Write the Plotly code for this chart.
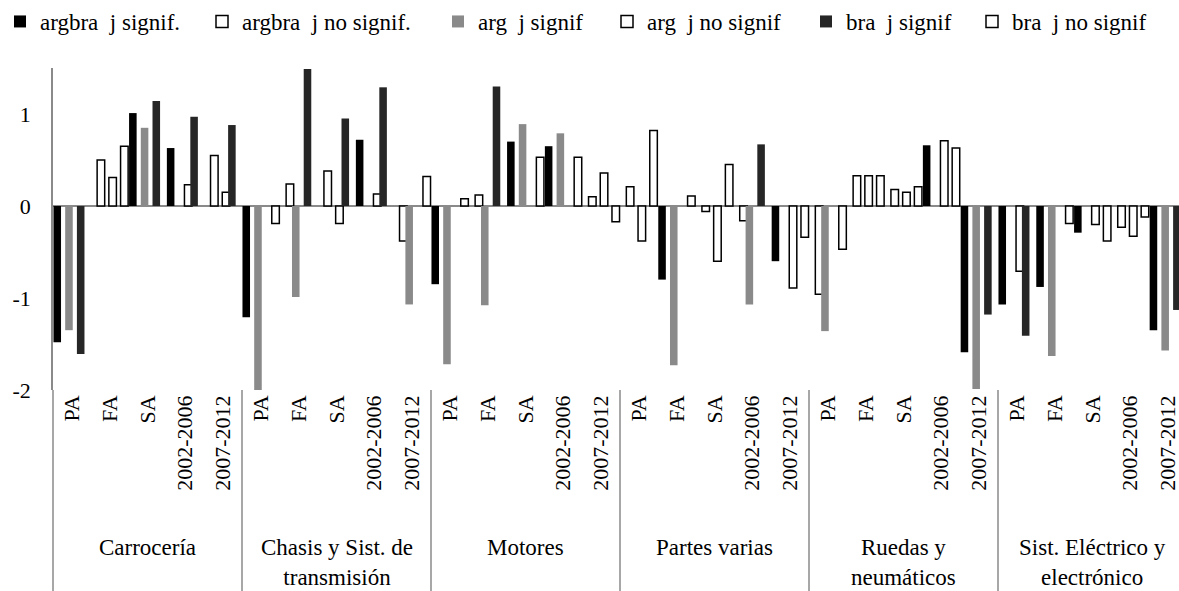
import plotly.graph_objects as go

# ---------------- data ----------------
groups = ["Carrocería", "Chasis y Sist. de<br>transmisión", "Motores", "Partes varias",
          "Ruedas y<br>neumáticos", "Sist. Eléctrico y<br>electrónico"]
periods = ["PA", "FA", "SA", "2002-2006", "2007-2012"]

argbra_vals = [-1.48, 0.50, 1.01, 0.63, 0.55,
               -1.21, 0.24, 0.38, 0.72, -0.38,
               -0.85, 0.12, 0.70, 0.65, 0.10,
               0.21, -0.80, -0.06, -0.16, -0.60,
               -0.96, 0.33, 0.18, 0.66, -1.59,
               -1.07, -0.88, -0.29, -0.23, -1.35]
argbra_sig = [1, 0, 1, 1, 0,
              1, 0, 0, 1, 0,
              1, 0, 1, 1, 0,
              0, 1, 0, 0, 1,
              0, 0, 0, 1, 1,
              1, 1, 1, 0, 1]
arg_vals = [-1.35, 0.31, 0.85, 0.23, 0.15,
            -2.01, -0.99, -0.19, 0.13, -1.07,
            -1.72, -1.08, 0.89, 0.79, 0.36,
            -0.38, -1.73, -0.60, -1.07, -0.89,
            -1.36, 0.33, 0.15, 0.71, -1.99,
            -0.71, -1.63, -0.20, -0.33, -1.57]
arg_sig = [1, 0, 1, 0, 0,
           1, 1, 0, 0, 1,
           1, 1, 1, 1, 0,
           0, 1, 0, 1, 0,
           1, 0, 0, 0, 1,
           0, 1, 0, 0, 1]
bra_vals = [-1.61, 0.65, 1.14, 0.97, 0.88,
            -0.19, 1.49, 0.95, 1.29, 0.32,
            0.08, 1.30, 0.53, 0.53, -0.17,
            0.82, 0.11, 0.45, 0.67, -0.34,
            -0.47, 0.33, 0.21, 0.63, -1.18,
            -1.41, -0.19, -0.38, -0.12, -1.13]
bra_sig = [1, 0, 1, 1, 1,
           0, 1, 1, 1, 0,
           0, 1, 0, 0, 0,
           0, 0, 0, 1, 0,
           0, 0, 0, 0, 1,
           1, 0, 0, 0, 1]

series_names = ["argbra", "arg", "bra"]
sig_colors = ["#000000", "#8a8a8a", "#262626"]
series_vals = [argbra_vals, arg_vals, bra_vals]
series_sig = [argbra_sig, arg_sig, bra_sig]

# ---------------- figure ----------------
FONT = "Liberation Serif, Times New Roman, serif"
W, H = 1179, 591
ML, MR, MT = 53, 0, 68
PLOT_BOTTOM = 390
MB = H - PLOT_BOTTOM
n_cat = len(groups) * len(periods)
idx = list(range(n_cat))
ticktext = [p for _ in groups for p in periods]

bar_w = 0.2
step = 0.155
start = -0.4875

# legend entry left edges (px)
legend_left_px = [0, 202, 438, 607, 806, 972]

fig = go.Figure()
slot = 0
for name, col, vals, sig in zip(series_names, sig_colors, series_vals, series_sig):
    for is_sig in (1, 0):
        y = [v if s == is_sig else None for v, s in zip(vals, sig)]
        label = name + "\u00a0\u00a0j " + ("signif" if is_sig else "no signif")
        if name == "argbra":
            label += "."
        fig.add_trace(go.Bar(
            x=idx, y=y, name=label,
            width=bar_w, offset=start + step * slot,
            legend="legend" if slot == 0 else "legend%d" % (slot + 1),
            marker=dict(color=col if is_sig else "#ffffff",
                        line=dict(color="#000000", width=0 if is_sig else 1.5)),
        ))
        slot += 1

plot_w = W - ML - MR
plot_h = H - MT - MB
cat_px = 37.8
x_range = [-0.5, -0.5 + plot_w / cat_px]

shapes = []
for g in range(len(groups)):
    xb = g * len(periods) - 0.5
    if g == 0:
        shapes.append(dict(type="line", xref="x domain", yref="paper", x0=0, x1=0,
                           y0=0, y1=-MB / plot_h, line=dict(color="#8a8a8a", width=1.5)))
    else:
        shapes.append(dict(type="line", xref="x", yref="paper", x0=xb, x1=xb,
                           y0=0, y1=-MB / plot_h, line=dict(color="#8a8a8a", width=1.5)))

group_top_px = 533
annotations = []
for g, gname in enumerate(groups):
    xc = g * len(periods) + (len(periods) - 1) / 2
    annotations.append(dict(x=xc, xref="x", y=-(group_top_px - PLOT_BOTTOM) / plot_h,
                            yref="paper", text=gname, showarrow=False,
                            yanchor="top", xanchor="center",
                            font=dict(family=FONT, size=23, color="#000000")))

legend_common = dict(orientation="h", xref="container", yref="container",
                     y=1.0, xanchor="left", yanchor="top",
                     font=dict(family=FONT, size=23, color="#000000"),
                     itemwidth=30, bgcolor="rgba(0,0,0,0)")
layout_legends = {}
for i, lx in enumerate(legend_left_px):
    key = "legend" if i == 0 else "legend%d" % (i + 1)
    layout_legends[key] = dict(legend_common, x=lx / W)

fig.update_layout(
    width=W, height=H,
    margin=dict(l=ML, r=MR, t=MT, b=MB, pad=0, autoexpand=False),
    paper_bgcolor="#ffffff", plot_bgcolor="#ffffff",
    barmode="overlay",
    font=dict(family=FONT, size=22, color="#000000"),
    showlegend=True,
    xaxis=dict(range=x_range, tickmode="array", tickvals=idx, ticktext=ticktext,
               tickangle=-90, showgrid=False, zeroline=False, showline=False, ticks="",
               ticklabeloverflow="allow",
               tickfont=dict(family=FONT, size=22, color="#000000")),
    yaxis=dict(range=[-2, 1.5], tickmode="array", tickvals=[-2, -1, 0, 1],
               ticktext=["-2", "-1", "0", "1"], showgrid=False,
               showline=True, linecolor="#8a8a8a", linewidth=1.5,
               zeroline=True, zerolinecolor="#8a8a8a", zerolinewidth=1.5,
               ticks="", ticklabelstandoff=16,
               tickfont=dict(family=FONT, size=22, color="#000000")),
    shapes=shapes, annotations=annotations,
    **layout_legends,
)

fig.write_html("out.html",
               config={"displayModeBar": False},
               post_script="document.body.style.margin='0';document.body.style.overflow='hidden';")
